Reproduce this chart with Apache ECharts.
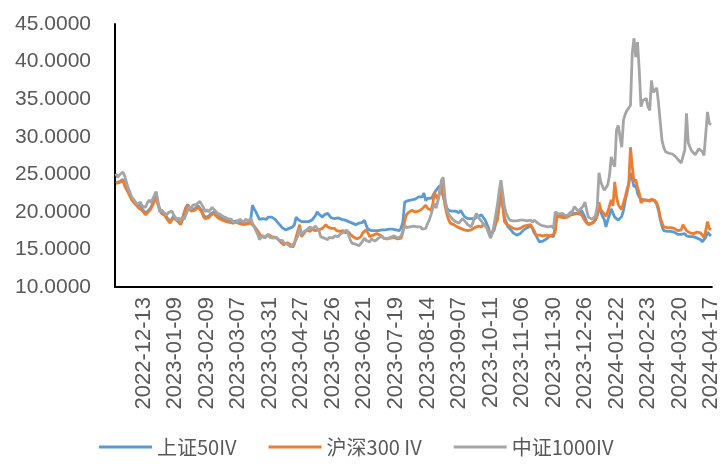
<!DOCTYPE html>
<html>
<head>
<meta charset="utf-8">
<script src="https://cdn.jsdelivr.net/npm/echarts@6/dist/echarts.min.js"></script>
<style>
  html, body { margin: 0; padding: 0; background: #fff; }
  #main { width: 722px; height: 464px; }
</style>
</head>
<body>
<div id="main"></div>
<script>
// trading calendar: weekdays between start and end, minus exchange holidays
const startDate = '2022-11-21';
const endDate = '2024-04-17';
const holidays = [
  '2023-01-02', '2023-01-23', '2023-01-24', '2023-01-25', '2023-01-26', '2023-01-27',
  '2023-04-05', '2023-05-01', '2023-05-02', '2023-05-03', '2023-06-22', '2023-06-23',
  '2023-09-29', '2023-10-02', '2023-10-03', '2023-10-04', '2023-10-05', '2023-10-06',
  '2024-01-01', '2024-02-09', '2024-02-12', '2024-02-13', '2024-02-14', '2024-02-15',
  '2024-02-16', '2024-04-04', '2024-04-05'
];

const sz50 = [
  23.9, 23.8, 24.0, 24.1, 24.3, 23.7, 23.2, 22.7, 22.3, 21.8, 21.5, 21.3, 20.9, 20.7, 20.9, 20.4, 20.2, 19.8,
  19.6, 20.3, 20.6, 21.1, 21.6, 22.2, 21.2, 20.4, 20.0, 19.9, 19.7, 19.3, 19.0, 18.7, 19.1, 19.4, 19.6, 19.0,
  18.8, 18.5, 19.1, 19.9, 20.6, 21.0, 20.6, 20.3, 20.2, 20.4, 20.5, 20.8, 20.7, 20.2, 19.6, 19.3, 19.1, 19.4,
  19.7, 19.8, 20.0, 19.7, 19.5, 19.3, 19.2, 19.1, 19.0, 18.9, 18.8, 18.8, 18.6, 18.7, 18.5, 18.8, 18.7, 18.6,
  18.8, 18.5, 18.7, 18.5, 18.6, 18.8, 20.9, 20.4, 20.0, 19.5, 19.0, 18.9, 19.1, 19.2, 19.0, 19.3, 19.4, 19.3,
  19.2, 19.0, 18.7, 18.5, 18.2, 17.9, 17.7, 17.6, 17.7, 17.8, 17.7, 18.0, 18.3, 19.3, 19.0, 18.8, 18.7, 18.8,
  18.7, 18.6, 18.7, 18.8, 18.9, 19.2, 19.5, 20.0, 19.7, 19.5, 19.3, 19.6, 19.8, 19.8, 19.5, 19.2, 19.3, 19.1,
  19.2, 19.2, 19.0, 19.0, 19.1, 18.9, 18.9, 18.7, 18.6, 18.5, 18.5, 18.3, 18.4, 18.5, 18.4, 18.6, 18.9, 18.2,
  17.7, 17.6, 17.5, 17.6, 17.5, 17.6, 17.5, 17.7, 17.6, 17.7, 17.6, 17.8, 17.7, 17.6, 17.7, 17.8, 17.6, 17.6,
  17.5, 17.9, 18.7, 21.3, 21.2, 21.5, 21.4, 21.6, 21.8, 21.7, 21.9, 22.0, 22.2, 22.0, 22.5, 21.5, 21.8, 21.6,
  21.8, 22.1, 22.5, 22.9, 23.1, 23.5, 23.0, 22.0, 21.3, 20.6, 20.2, 20.0, 20.1, 19.9, 20.1, 19.9, 19.9, 20.2,
  19.8, 19.4, 19.2, 19.1, 19.2, 19.1, 19.3, 19.1, 19.2, 19.4, 19.5, 19.6, 19.2, 18.9, 18.8, 17.8, 16.7, 17.2,
  17.5, 18.4, 19.5, 20.7, 23.0, 20.8, 19.2, 18.6, 18.0, 17.8, 17.5, 17.2, 17.0, 16.9, 16.9, 17.1, 17.3, 17.6,
  17.8, 17.9, 18.1, 18.1, 17.8, 17.2, 16.9, 16.4, 16.0, 15.9, 16.1, 16.3, 16.4, 16.6, 16.8, 16.7, 16.7, 16.8,
  19.6, 19.5, 19.4, 19.3, 19.4, 19.3, 19.5, 19.7, 20.0, 19.9, 19.8, 19.6, 19.8, 20.0, 20.2, 20.2, 19.3, 18.6,
  18.3, 18.4, 18.5, 18.6, 18.9, 19.6, 20.5, 20.0, 19.4, 19.0, 18.0, 18.9, 19.6, 20.4, 19.8, 19.3, 19.1, 18.9,
  19.0, 19.4, 20.2, 21.5, 22.5, 23.6, 25.2, 24.4, 23.3, 23.6, 22.5, 22.0, 21.7, 21.5, 21.6, 21.4, 21.5, 21.3,
  21.6, 21.5, 21.4, 21.0, 20.2, 19.0, 18.1, 17.5, 17.4, 17.4, 17.3, 17.4, 17.3, 17.3, 17.2, 17.0, 16.8, 17.0,
  16.9, 17.1, 16.8, 16.7, 16.7, 16.6, 16.7, 16.6, 16.5, 16.6, 16.3, 16.0, 16.1, 16.6, 17.3, 17.0, 16.8
];

const hs300 = [
  23.8, 23.6, 23.9, 24.0, 24.2, 23.5, 23.0, 22.6, 22.1, 21.6, 21.3, 21.1, 20.8, 20.5, 20.7, 20.2, 20.0, 19.6,
  19.4, 20.1, 20.4, 20.9, 21.4, 22.0, 21.0, 20.2, 19.8, 19.6, 19.5, 19.1, 18.8, 18.5, 18.9, 19.2, 19.4, 18.8,
  18.6, 18.3, 18.9, 19.8, 20.5, 20.9, 20.4, 20.1, 20.0, 20.2, 20.3, 20.6, 20.5, 20.0, 19.4, 19.1, 18.9, 19.2,
  19.5, 19.6, 19.8, 19.5, 19.3, 19.1, 19.0, 18.9, 18.8, 18.7, 18.6, 18.6, 18.4, 18.5, 18.3, 18.6, 18.5, 18.4,
  18.6, 18.3, 18.5, 18.4, 18.4, 18.5, 18.5, 18.1, 17.8, 17.6, 17.1, 16.7, 16.9, 16.6, 16.8, 17.0, 16.9, 16.7,
  16.5, 16.6, 16.4, 16.3, 16.0, 15.8, 15.6, 15.8, 15.9, 16.0, 15.6, 15.3, 15.7, 16.7, 17.5, 18.3, 16.7, 17.0,
  17.3, 17.6, 17.5, 17.4, 17.7, 17.8, 17.5, 17.7, 17.6, 17.4, 17.8, 18.0, 18.3, 18.0, 17.9, 17.8, 17.6, 17.8,
  17.5, 17.6, 17.4, 17.4, 17.5, 17.2, 17.4, 17.3, 17.0, 16.8, 16.6, 16.5, 16.4, 16.3, 16.7, 17.2, 17.4, 17.6,
  17.2, 16.7, 16.9, 16.9, 17.0, 17.1, 17.2, 16.9, 16.7, 16.5, 16.3, 16.4, 16.6, 16.5, 16.7, 16.6, 16.5, 16.4,
  16.6, 16.5, 17.3, 18.8, 19.6, 19.9, 20.1, 20.2, 20.3, 20.0, 20.0, 20.1, 20.0, 20.4, 20.6, 20.9, 20.5, 20.4,
  20.2, 21.0, 22.6, 22.0, 21.7, 22.8, 23.8, 22.5, 20.9, 19.8, 19.0, 18.5, 18.4, 18.3, 18.1, 18.0, 17.9, 17.8,
  17.7, 17.6, 17.8, 17.5, 17.5, 17.6, 17.7, 17.9, 18.1, 18.1, 18.2, 18.0, 18.4, 18.3, 17.9, 17.2, 16.7, 17.2,
  17.8, 18.5, 18.9, 21.0, 23.3, 21.0, 18.7, 18.4, 18.2, 18.1, 17.9, 17.8, 17.7, 17.7, 17.6, 17.8, 17.9, 18.1,
  18.0, 18.2, 18.4, 18.3, 18.1, 17.5, 16.9, 16.7, 16.9, 16.8, 16.8, 16.6, 16.9, 16.7, 16.8, 16.9, 17.0, 17.3,
  19.4, 19.6, 19.3, 19.2, 19.2, 19.1, 19.3, 19.4, 19.6, 19.5, 19.7, 19.9, 19.8, 20.0, 19.6, 19.2, 18.8, 18.5,
  18.3, 18.4, 18.5, 18.6, 18.6, 19.5, 21.3, 20.3, 20.0, 19.7, 19.4, 20.0, 20.8, 21.6, 20.8, 24.0, 22.0, 21.0,
  20.6, 20.3, 21.2, 22.0, 23.0, 23.8, 28.6, 26.0, 24.0, 24.3, 23.3, 22.5, 21.2, 21.5, 21.5, 21.6, 21.6, 21.4,
  21.7, 21.6, 21.5, 21.2, 20.5, 19.3, 18.5, 18.0, 17.9, 17.9, 17.8, 17.9, 17.8, 17.8, 17.7, 17.5, 17.3, 17.6,
  18.3, 17.9, 17.5, 17.4, 17.2, 17.0, 17.1, 17.1, 17.3, 17.5, 17.2, 16.9, 16.6, 17.5, 18.7, 17.8, 17.6
];

const zz1000 = [
  25.1, 24.6, 24.9, 25.0, 25.3, 24.8, 24.0, 23.2, 22.6, 22.0, 21.7, 21.4, 21.0, 20.9, 21.3, 20.8, 21.0, 20.6,
  21.2, 21.6, 21.2, 21.7, 22.2, 22.7, 21.5, 20.0, 20.3, 20.0, 19.8, 19.6, 19.9, 19.7, 20.1, 19.6, 19.8, 18.9,
  19.2, 18.8, 19.3, 19.0, 19.6, 20.2, 20.7, 20.4, 20.9, 21.1, 21.0, 20.8, 21.4, 21.0, 20.6, 20.0, 20.3, 20.0,
  20.2, 20.6, 20.5, 20.1, 19.8, 20.0, 19.6, 19.5, 19.3, 19.4, 19.1, 18.9, 19.0, 18.7, 18.9, 18.6, 18.8, 19.0,
  18.9, 18.6, 19.0, 18.9, 18.8, 19.2, 18.5, 18.0, 17.5, 17.0, 16.3, 16.6, 16.9, 16.5, 16.7, 16.9, 16.6, 16.8,
  16.5, 16.3, 16.6, 16.2, 16.0, 16.2, 15.9, 15.8, 15.7, 15.6, 15.3, 15.5, 15.9, 16.3, 16.8, 17.8, 17.0, 17.3,
  17.1, 17.6, 17.8, 18.0, 17.7, 17.9, 18.1, 18.3, 17.5, 16.7, 16.9, 16.5, 16.6, 16.3, 16.6, 16.4, 16.5, 16.8,
  16.6, 16.7, 17.0, 17.1, 17.3, 17.2, 17.6, 16.9, 16.2, 15.8, 16.0, 15.7, 15.6, 15.5, 15.8, 16.1, 16.5, 16.2,
  16.3, 16.0, 16.4, 16.2, 16.1, 16.2, 16.5, 16.3, 16.8, 16.5, 16.6, 16.4, 16.3, 16.6, 16.5, 16.8, 16.8, 16.5,
  16.7, 16.8, 17.0, 18.2, 17.9, 18.1, 18.0, 17.8, 18.1, 17.9, 18.0, 18.2, 18.0, 17.7, 17.9, 17.8, 18.4, 18.9,
  19.6, 20.4, 21.1, 20.5, 20.7, 22.5, 24.2, 24.6, 22.0, 20.3, 19.8, 19.4, 19.1, 18.9, 18.7, 18.6, 18.5, 18.8,
  19.1, 19.1, 18.6, 18.3, 18.2, 18.0, 18.6, 19.2, 19.8, 19.3, 19.0, 18.7, 18.4, 18.1, 17.8, 17.2, 16.5, 17.1,
  18.2, 19.6, 21.0, 22.8, 24.2, 22.5, 20.7, 19.8, 19.3, 18.9, 18.7, 18.8, 18.6, 18.8, 18.7, 18.9, 18.8, 18.9,
  19.1, 18.8, 18.7, 18.9, 18.6, 18.9, 18.7, 18.5, 18.3, 18.2, 18.4, 18.1, 18.2, 18.0, 17.9, 18.1, 17.8, 20.0,
  19.8, 19.7, 19.6, 19.8, 19.7, 19.5, 19.7, 19.6, 19.9, 20.2, 20.7, 20.4, 20.1, 20.0, 20.5, 20.8, 21.3, 20.2,
  19.3, 19.1, 19.0, 18.9, 19.5, 20.7, 25.2, 24.0, 23.4, 22.9, 23.2, 23.6, 24.8, 27.3, 26.5, 26.0, 30.9, 31.5,
  31.3, 28.6, 32.2, 33.0, 33.5, 33.8, 34.2, 41.1, 43.1, 40.6, 42.6, 38.9, 34.0, 34.8, 34.9, 35.1, 34.0, 33.5,
  37.5, 35.9, 36.2, 36.5, 34.5, 32.0, 29.5, 28.6, 28.0, 27.9, 27.8, 27.6, 27.7, 27.5, 27.3, 27.0, 26.8, 26.5,
  27.4, 28.2, 33.1, 29.2, 28.6, 28.1, 27.9, 27.6, 28.0, 28.4, 28.6, 28.0, 27.5, 27.3, 33.3, 31.8, 31.6
];

const seriesNames = ['上证50IV', '沪深300 IV', '中证1000IV'];
const colors = ['#5B9BD5', '#ED7D31', '#A5A5A5'];

// label every 18th trading day, first at 2022-12-13
const labelStart = 16;
const labelStep = 18;

function buildDates() {
  const out = [];
  const d = new Date(startDate + 'T00:00:00Z');
  const end = new Date(endDate + 'T00:00:00Z');
  while (d <= end) {
    const s = d.toISOString().slice(0, 10);
    const wd = d.getUTCDay();
    if (wd !== 0 && wd !== 6 && holidays.indexOf(s) < 0) out.push(s);
    d.setUTCDate(d.getUTCDate() + 1);
  }
  return out;
}
const dates = buildDates();

const chart = echarts.init(document.getElementById('main'));

const option = {
  animation: false,
  color: colors,
  grid: { left: 115, right: 7, top: 24, bottom: 177 },
  legend: {
    data: seriesNames,
    left: 94,
    top: 432,
    icon: 'rect',
    itemWidth: 53,
    itemHeight: 3,
    itemGap: 32,
    textStyle: { fontFamily: 'Noto Sans CJK SC', fontSize: 20, color: '#595959' }
  },
  xAxis: {
    type: 'category',
    data: dates,
    boundaryGap: true,
    axisLine: { lineStyle: { color: '#000', width: 2 } },
    axisTick: { show: false },
    axisLabel: {
      rotate: 90,
      margin: 10,
      interval: (i) => i >= labelStart && (i - labelStart) % labelStep === 0,
      fontFamily: 'Liberation Sans',
      fontSize: 22,
      color: '#595959'
    },
    splitLine: { show: false }
  },
  yAxis: {
    type: 'value',
    min: 10,
    max: 45,
    interval: 5,
    axisLine: { show: true, lineStyle: { color: '#000', width: 2 } },
    axisTick: { show: false },
    splitLine: { show: false },
    axisLabel: {
      margin: 24,
      fontFamily: 'Liberation Sans',
      fontSize: 21,
      color: '#595959',
      formatter: (v) => v.toFixed(4)
    }
  },
  series: [sz50, hs300, zz1000].map((vals, k) => ({
    name: seriesNames[k],
    type: 'line',
    data: vals,
    showSymbol: false,
    lineStyle: { width: 2.8, color: colors[k] }
  }))
};

chart.setOption(option);
</script>
</body>
</html>
